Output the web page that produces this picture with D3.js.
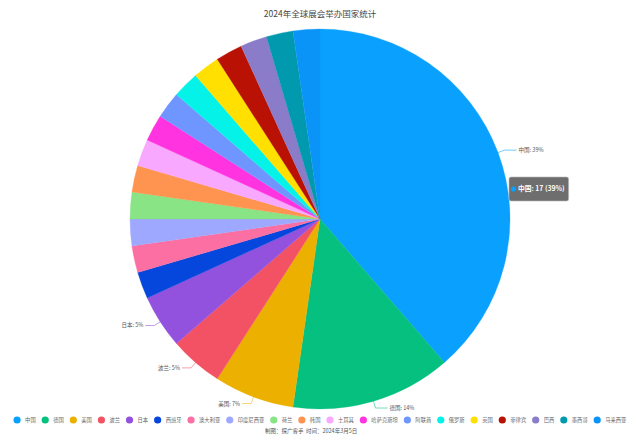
<!DOCTYPE html>
<html><head><meta charset="utf-8">
<script src="https://cdn.jsdelivr.net/npm/d3@7/dist/d3.min.js"></script>
<style>html,body{margin:0;padding:0;background:#fff;}svg{display:block;font-family:"Noto Sans CJK SC","Microsoft YaHei",sans-serif;}</style>
</head><body>
<svg id="c" width="640" height="439"></svg>
<script>
const title = "2024年全球展会举办国家统计";
const footer = "制图：探广客手  时间：2024年3月5日";
const countries = ["中国","德国","美国","波兰","日本","西班牙","澳大利亚","印度尼西亚","荷兰","韩国","土耳其","哈萨克斯坦","阿联酋","俄罗斯","英国","菲律宾","巴西","墨西哥","马来西亚"];
const counts = [17,6,3,2,2,1,1,1,1,1,1,1,1,1,1,1,1,1,1];
const colors = ["#0aa0fe","#05c07e","#ebb000","#f25264","#9352dd","#0546dc","#fb6fa2","#9fa8ff","#88e484","#ff9450","#f9a8ff","#ff33e0","#6f96ff","#05f2e8","#ffe000","#b91103","#8a7cc8","#0099ad","#0a94f8"];
const labeled = ["中国","德国","美国","波兰","日本"];
const tooltipCountry = "中国";

const svg = d3.select("#c");
const W = 640, cx = 320, cy = 219, R = 190;
const data = countries.map((c,i)=>({name:c, value:counts[i], color:colors[i]}));
const total = d3.sum(counts);
const color = d3.scaleOrdinal().domain(countries).range(colors);

svg.append("text").attr("x", W/2).attr("y", 17).attr("text-anchor","middle")
  .attr("font-size", 8.5).attr("fill","#464646").text(title);

const pie = d3.pie().value(d=>d.value).sort(null);
const arcs = pie(data);
const arc = d3.arc().innerRadius(0).outerRadius(R);
const g = svg.append("g").attr("transform",`translate(${cx},${cy})`);
g.selectAll("path").data(arcs).join("path")
  .attr("d", arc).attr("fill", d=>color(d.data.name))
  .attr("stroke", d=>color(d.data.name)).attr("stroke-width",0.3);

// labels
const pct = v => Math.round(v/total*100) + "%";
arcs.filter(a=>labeled.includes(a.data.name)).forEach(a=>{
  const m = (a.startAngle + a.endAngle)/2;
  const sx = Math.sin(m), sy = -Math.cos(m);
  const p0 = [sx*R, sy*R];
  const p1 = [sx*(R+7), sy*(R+7)];
  const right = sx > 0;
  const p2 = [p1[0] + (right?12:-9), p1[1]];
  g.append("polyline").attr("points",[p0,p1,p2].map(p=>p.join(",")).join(" "))
    .attr("fill","none").attr("stroke", color(a.data.name)).attr("stroke-width",0.8).attr("opacity",0.7);
  g.append("text").attr("x", p2[0] + (right?2:-2)).attr("y", p2[1])
    .attr("dy","0.35em").attr("text-anchor", right?"start":"end")
    .attr("font-size",5.5).attr("fill","#555")
    .text(`${a.data.name}: ${pct(a.data.value)}`);
});

// legend
const lg = svg.append("g");
const fs = 5.3;
const gap = 9.5;
const items = [];
let x = 0;
data.forEach(d=>{
  const t = lg.append("text").attr("font-size",fs).attr("fill","#666").attr("dy","0.35em").text(d.name);
  const w = t.node().getComputedTextLength();
  items.push({d, t, x, w});
  x += 8 + w + gap;
});
const totalW = x - gap + 3.5;
const startX = (W - totalW)/2 + 3.5;
items.forEach(it=>{
  lg.append("circle").attr("cx", startX + it.x).attr("cy", 420).attr("r",3.6).attr("fill", color(it.d.name));
  it.t.attr("x", startX + it.x + 8).attr("y", 420);
});

svg.append("text").attr("x", 265).attr("y", 431).attr("dy","0.35em")
  .attr("font-size",5.5).attr("fill","#555").attr("xml:space","preserve").text(footer);

// tooltip (static, as in reference)
const ta = arcs.find(a=>a.data.name===tooltipCountry);
const tg = svg.append("g");
const tx = 509, ty = 177;
const tt = tg.append("text").attr("font-size",6.8).attr("fill","#fff").attr("font-weight","600")
  .attr("x", tx+9).attr("y", ty+12).attr("dy","0.35em")
  .text(`${ta.data.name}: ${ta.data.value} (${pct(ta.data.value)})`);
const tw = tt.node().getComputedTextLength();
tg.insert("rect","text").attr("x",tx).attr("y",ty).attr("width", tw+13).attr("height",24).attr("rx",2)
  .attr("fill","rgba(85,85,85,0.85)").attr("stroke","#bbb").attr("stroke-width",0.6);
tg.append("circle").attr("cx",tx+4.5).attr("cy",ty+12).attr("r",2.6).attr("fill",color(ta.data.name));
</script>
</body></html>
